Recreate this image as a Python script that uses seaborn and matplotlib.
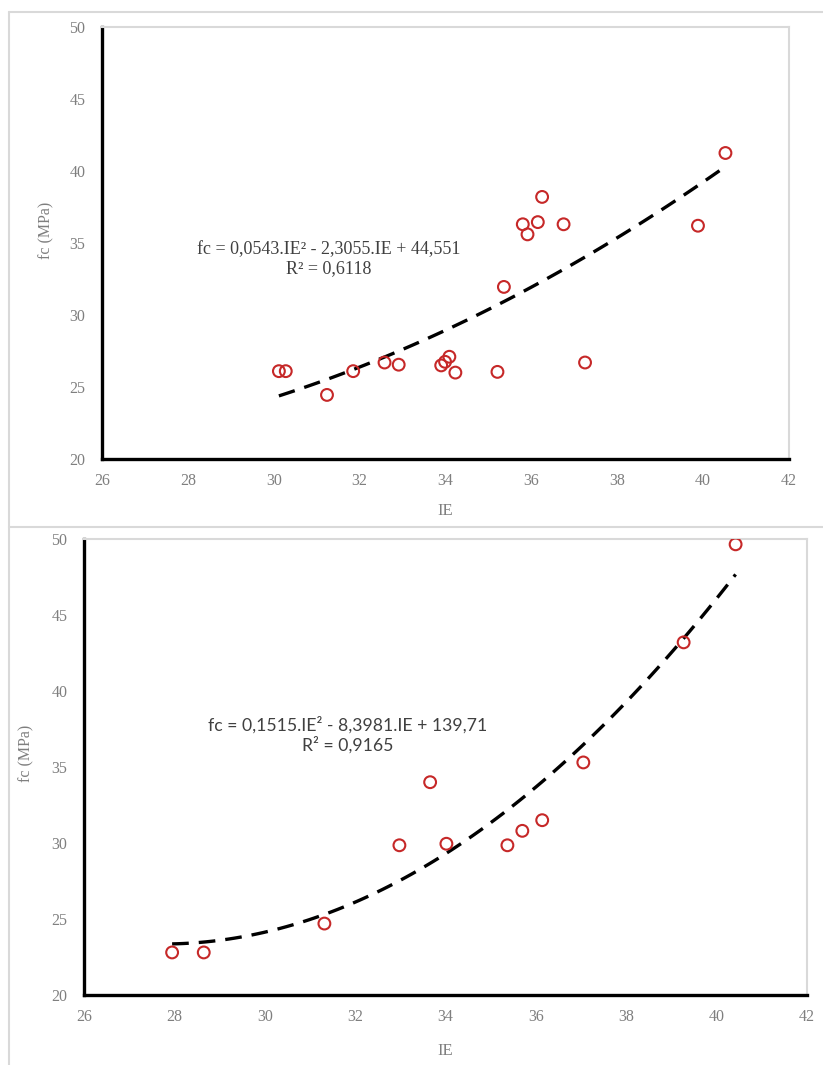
import numpy as np
import pandas as pd
import matplotlib
matplotlib.use("Agg")
import matplotlib.pyplot as plt
from matplotlib.lines import Line2D
import seaborn as sns

# ---- data ----
ie_top = [30.12, 30.28, 31.24, 31.85, 32.58, 32.91, 33.90, 33.99, 34.09, 34.23,
          35.21, 35.36, 35.80, 35.91, 36.15, 36.25, 36.75, 37.25, 39.88, 40.52]
fc_top = [26.1, 26.1, 24.45, 26.1, 26.7, 26.55, 26.5, 26.75, 27.1, 26.0,
          26.05, 31.95, 36.3, 35.6, 36.45, 38.2, 36.3, 26.7, 36.2, 41.25]

ie_bot = [27.95, 28.65, 31.32, 32.98, 33.66, 34.02, 35.37, 35.70, 36.14, 37.05, 39.27, 40.42]
fc_bot = [22.8, 22.8, 24.7, 29.85, 34.0, 29.95, 29.85, 30.8, 31.5, 35.3, 43.2, 49.65]

x_ticks = [26, 28, 30, 32, 34, 36, 38, 40, 42]
y_ticks = [20, 25, 30, 35, 40, 45, 50]
eq_top = ["fc = 0,0543.IE\u00b2 - 2,3055.IE + 44,551", "R\u00b2 = 0,6118"]
eq_bot = ["fc = 0,1515.IE\u00b2 - 8,3981.IE + 139,71", "R\u00b2 = 0,9165"]
x_label = "IE"
y_label = "fc (MPa)"

sns.set_theme(style="white")
plt.rcParams["font.family"] = ["Liberation Serif", "DejaVu Serif"]

W, H = 823, 1065
fig = plt.figure(figsize=(W / 100, H / 100), dpi=100)

GRAY_TXT = "#7f7f7f"
RED = "#C62828"
FRAME = "#D9D9D9"

# panel frames
for (x0, y0, x1, y1) in [(9, 12, 823, 526), (9, 527, 823, 1065)]:
    fig.add_artist(Line2D([x0 / W, x1 / W], [1 - y0 / H, 1 - y0 / H], color=FRAME, lw=1.5, transform=fig.transFigure))
    fig.add_artist(Line2D([x0 / W, x0 / W], [1 - y0 / H, 1 - y1 / H], color=FRAME, lw=1.5, transform=fig.transFigure))


def make_panel(rect, xs, ys, eq, eq_pos, eq_font, eq_size, ylab_xy, xlab_xy):
    ax = fig.add_axes(rect)
    df = pd.DataFrame({"IE": xs, "fc": ys})
    sns.regplot(data=df, x="IE", y="fc", order=2, ci=None, scatter=False, ax=ax,
                line_kws=dict(color="black", lw=2.4, linestyle=(0, (5, 3))))
    sns.scatterplot(data=df, x="IE", y="fc", ax=ax, marker="o", s=72,
                    facecolor="none", edgecolor=RED, linewidth=1.5, zorder=3)
    ax.set_xlim(26, 42)
    ax.set_ylim(20, 50)
    ax.set_xticks(x_ticks)
    ax.set_yticks(y_ticks)
    ax.tick_params(length=0, labelsize=11.5, labelcolor=GRAY_TXT)
    ax.tick_params(axis="x", pad=10)
    ax.tick_params(axis="y", pad=12)
    for s in ["left", "bottom"]:
        ax.spines[s].set_color("black")
        ax.spines[s].set_linewidth(2.4)
    for s in ["top", "right"]:
        ax.spines[s].set_color(FRAME)
        ax.spines[s].set_linewidth(1.5)
    ax.set_xlabel(x_label, fontsize=12, color=GRAY_TXT)
    ax.set_ylabel(y_label, fontsize=11.5, color=GRAY_TXT)
    ax.xaxis.set_label_coords(*xlab_xy)
    ax.yaxis.set_label_coords(*ylab_xy)
    ax.grid(False)
    ax.text(eq_pos[0], eq_pos[1], eq[0] + "\n" + eq[1], transform=ax.transAxes,
            ha="center", va="center", fontsize=eq_size, color="#404040",
            family=eq_font, linespacing=1.2)
    return ax


# top panel: axes from x 102..789, y 27..459
make_panel([102 / W, 1 - 459 / H, 687 / W, 432 / H], ie_top, fc_top, eq_top,
           ((329 - 102) / 687, (459 - 259) / 432), ["Liberation Serif", "DejaVu Serif"], 13,
           (-0.07, 0.53), (0.5, -0.102))

# bottom panel: axes from x 84..807, y 539..995
make_panel([84 / W, 1 - 995 / H, 723 / W, 456 / H], ie_bot, fc_bot, eq_bot,
           ((348 - 84) / 723, (995 - 735) / 456), ["Lato", "DejaVu Sans"], 12.7,
           (-0.069, 0.53), (0.5, -0.105))

fig.savefig("out.png", dpi=100)
